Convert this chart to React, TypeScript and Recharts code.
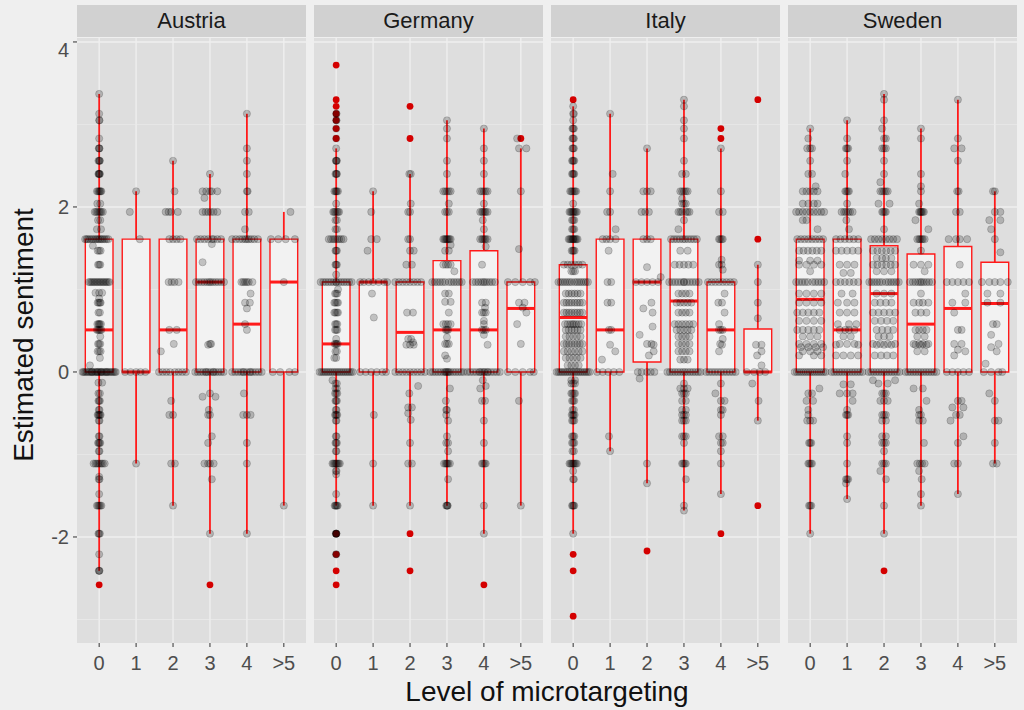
import React from "react";
import {
  ComposedChart,
  XAxis,
  YAxis,
  CartesianGrid,
  Scatter,
  ReferenceArea,
  ReferenceLine,
} from "recharts";

// [value, horizontal jitter offsets of the points sitting at that value]
type Row = [number, number[]];
// [lower whisker, q1, median, q3, upper whisker]
type Box = [number, number, number, number, number];

const LEVELS = ["0", "1", "2", "3", "4", ">5"];
const Y_TICKS = [-2, 0, 2, 4];
const Y_MINOR = [-3, -1, 1, 3];

const FONT = '"Liberation Sans", Arial, sans-serif';
const RED = "#ff1a1a";

// ---- Austria ----
const AUSTRIA_BOX: Box[] = [
  [-2.41, 0, 0.51, 1.61, 3.37],
  [-1.11, 0, 0, 1.61, 2.19],
  [-1.62, 0, 0.51, 1.61, 2.56],
  [-1.96, 0, 1.09, 1.61, 2.4],
  [-1.96, 0, 0.58, 1.61, 3.13],
  [-1.62, 0, 1.09, 1.61, 1.94],
];
const AUSTRIA_OUTLIERS = [[0, -2.58], [3, -2.58]];
const AUSTRIA_POINTS: Row[][] = [
  [
    [3.37, [0]], [3.13, [0]], [3.05, [0, 0.01]], [2.83, [0]], [2.71, [-0.01, 0, 0.01]],
    [2.56, [-0.02, 0, 0.01, 0.02]], [2.4, [-0.02, -0.01, 0, 0.01, 0.02]],
    [2.19, [-0.06, -0.03, 0, 0.02, 0.04, 0.06]], [2.04, [-0.05, 0.03]],
    [1.94, [-0.12, -0.08, -0.04, 0, 0.03, 0.06, 0.1]], [1.84, [-0.03, 0.03]], [1.73, [-0.06, 0.05]],
    [1.61, [-0.38, -0.34, -0.3, -0.25, -0.2, -0.15, -0.1, -0.06, -0.02, 0.02, 0.06, 0.1, 0.15, 0.2, 0.25]],
    [1.53, [-0.17]], [1.47, [-0.04, 0, 0.04]], [1.3, [-0.03, 0, 0.03]],
    [1.09, [-0.28, -0.24, -0.2, -0.16, -0.12, -0.08, -0.04, 0, 0.04, 0.08, 0.12, 0.16, 0.2, 0.24, 0.28]],
    [0.96, [-0.1, 0, 0.08]], [0.89, [0]], [0.84, [-0.04, -0.01, 0.02, 0.04]], [0.72, [-0.02, 0.02]],
    [0.58, [-0.05, -0.02, 0, 0.02, 0.05]], [0.51, [-0.06, -0.03, 0, 0.03, 0.06]], [0.43, [0.03]],
    [0.34, [-0.03, 0, 0.03]], [0.25, [-0.04, 0, 0.04]], [0.17, [0.02]], [0.08, [-0.25]],
    [0, [-0.45, -0.42, -0.38, -0.34, -0.3, -0.26, -0.22, -0.18, -0.14, -0.1, -0.06, -0.02, 0.02, 0.06, 0.1, 0.14, 0.18, 0.22, 0.26, 0.3, 0.34, 0.38, 0.42, 0.45, -0.2, -0.05, 0.05, 0.2]],
    [-0.13, [-0.02, 0.08]], [-0.26, [-0.02, 0.02]], [-0.35, [-0.02, 0, 0.02]], [-0.46, [-0.01, 0.01]],
    [-0.52, [-0.04, -0.02, 0, 0.02, 0.04]], [-0.59, [-0.01, 0.01]], [-0.78, [-0.01, 0.01]],
    [-0.86, [-0.03, -0.01, 0.01, 0.03]], [-0.96, [-0.01, 0.01]],
    [-1.11, [-0.15, -0.1, -0.06, -0.02, 0.02, 0.06, 0.1, 0.15]], [-1.27, [0]], [-1.3, [-0.01, 0.01]],
    [-1.48, [0]], [-1.62, [-0.06, -0.03, 0, 0.03, 0.06]], [-1.96, [-0.02, 0, 0.02]], [-2.21, [0]],
    [-2.41, [-0.01, 0, 0.01]],
  ],
  [[2.19, [0]], [1.94, [-0.17]], [1.61, [0.1]], [0, [-0.3, -0.15, 0, 0.12, 0.25]], [-1.11, [0]]],
  [
    [2.56, [0]], [2.19, [0.04]], [1.94, [-0.2, -0.12, -0.05, 0.13]], [1.61, [-0.1, 0, 0.1, 0.2]],
    [1.09, [-0.12, -0.04, 0.04, 0.15]], [0.51, [-0.1, 0.1]], [0.34, [0.02]], [0.25, [-0.33]],
    [0, [-0.38, -0.28, -0.18, -0.08, 0.05, 0.15, 0.25, 0.35]], [-0.35, [-0.05]], [-0.52, [-0.1, 0]],
    [-1.11, [-0.05, 0.05]], [-1.62, [0]],
  ],
  [
    [2.4, [0]], [2.19, [-0.2, -0.1, 0, 0.05, 0.2]], [2.11, [-0.15]],
    [1.94, [-0.2, -0.12, -0.05, 0.02, 0.1, 0.2]], [1.61, [-0.35, -0.25, -0.15, -0.05, 0.05, 0.1, 0.2, 0.3]],
    [1.55, [0.05]], [1.33, [-0.2]],
    [1.09, [-0.38, -0.3, -0.22, -0.15, -0.08, -0.02, 0.02, 0.08, 0.15, 0.22, 0.3, 0.38]],
    [0.34, [0, 0.03]], [0.33, [-0.05]],
    [0, [-0.4, -0.33, -0.26, -0.19, -0.12, -0.05, 0.02, 0.09, 0.16, 0.23, 0.3, 0.37, -0.1, 0.1]],
    [-0.26, [0]], [-0.3, [-0.2, 0.15]], [-0.46, [-0.03]], [-0.52, [-0.05, 0]], [-0.78, [0.05]],
    [-0.86, [-0.05]], [-1.11, [-0.15, -0.05, 0, 0.1]], [-1.3, [0.05]], [-1.96, [0]],
  ],
  [
    [3.13, [0]], [2.71, [0]], [2.56, [0]], [2.4, [0]], [2.19, [0, 0.02]], [1.94, [-0.05, 0.05]],
    [1.73, [-0.05]], [1.61, [-0.4, -0.3, -0.2, -0.12, -0.05, 0, 0.05, 0.12, 0.2, 0.3]],
    [1.09, [-0.15, -0.1, -0.05, 0, 0.05, 0.15]], [0.95, [0.1]], [0.84, [-0.05, 0.08]], [0.77, [0]],
    [0.58, [-0.05]], [0.51, [0]],
    [0, [-0.4, -0.32, -0.24, -0.16, -0.08, 0, 0.08, 0.16, 0.24, 0.32, 0.4, -0.1, 0.1]],
    [-0.26, [-0.08]], [-0.52, [-0.1, 0, 0.1]], [-0.86, [0]], [-1.11, [0]], [-1.96, [0]],
  ],
  [[1.94, [0.18]], [1.61, [-0.35, -0.15, 0.05, 0.3]], [1.09, [0]], [0, [-0.3, -0.1, 0.15, 0.3]], [-1.62, [0]]],
];

// ---- Germany ----
const GERMANY_BOX: Box[] = [
  [-1.62, 0, 0.34, 1.09, 2.71],
  [-1.62, 0, 1.09, 1.09, 2.19],
  [-1.62, 0, 0.48, 1.09, 2.4],
  [-1.62, 0, 0.51, 1.35, 3.05],
  [-1.96, 0, 0.51, 1.47, 2.95],
  [-1.62, 0, 0.77, 1.09, 2.71],
];
const GERMANY_OUTLIERS = [
  [0, 3.72], [0, 3.3], [0, 3.22], [0, 3.13], [0, 3.05], [0, 2.95], [0, 2.83],
  [0, -1.96], [0, -2.21], [0, -2.41], [0, -2.58],
  [2, 3.22], [2, 2.83], [2, -1.96], [2, -2.41], [4, -2.58], [5, 2.83],
];
const GERMANY_POINTS: Row[][] = [
  [
    [3.13, [0, 0.01]], [3.05, [0, 0.01]], [2.95, [0]], [2.83, [0]], [2.71, [0]],
    [2.56, [-0.01, 0, 0.01, 0.02]], [2.4, [-0.02, 0, 0.01, 0.02]], [2.19, [-0.05, -0.02, 0, 0.02, 0.05]],
    [2.04, [0]], [1.94, [-0.08, -0.05, -0.02, 0.02, 0.05, 0.08]], [1.84, [-0.02, 0.02]],
    [1.73, [-0.02, 0.02]], [1.61, [-0.2, -0.14, -0.08, -0.03, 0.03, 0.08, 0.14, 0.2]],
    [1.47, [-0.02, 0, 0.02]], [1.3, [-0.02, 0, 0.02]], [1.18, [0]],
    [1.09, [-0.42, -0.35, -0.28, -0.21, -0.14, -0.07, 0, 0.07, 0.14, 0.21, 0.28, 0.35, 0.42, 0]],
    [1.0, [0.05]], [0.95, [-0.03, 0, 0.03]], [0.84, [-0.05, -0.02, 0.02, 0.05]],
    [0.72, [-0.05, -0.02, 0.02, 0.05]], [0.58, [-0.03, 0, 0.03]], [0.51, [-0.03, 0, 0.03]], [0.4, [0]],
    [0.34, [-0.04, -0.01, 0.01, 0.04]], [0.25, [-0.02, 0.02]], [0.17, [-0.05, 0]],
    [0, [-0.45, -0.4, -0.35, -0.3, -0.25, -0.2, -0.15, -0.1, -0.05, 0, 0.05, 0.1, 0.15, 0.2, 0.25, 0.3, 0.35, 0.4, 0.45]],
    [-0.1, [-0.1]], [-0.14, [-0.02, 0.02]], [-0.2, [-0.02, 0.02]], [-0.26, [-0.03, 0, 0.03]],
    [-0.35, [-0.02, 0, 0.02]], [-0.46, [-0.01, 0.01]], [-0.52, [-0.03, -0.01, 0.01, 0.03]],
    [-0.59, [-0.01, 0.01]], [-0.78, [-0.01, 0.01]], [-0.86, [-0.02, 0, 0.02]], [-0.96, [-0.01, 0.01]],
    [-1.11, [-0.1, -0.07, -0.04, -0.01, 0.01, 0.04, 0.07, 0.1]], [-1.2, [-0.01, 0.01]], [-1.24, [0]],
    [-1.48, [0]], [-1.62, [-0.04, -0.02, 0, 0.02, 0.04]], [-1.96, [-0.01, 0, 0.01, 0, 0]], [-2.21, [0, 0]],
  ],
  [
    [2.19, [0]], [1.94, [-0.05]], [1.61, [-0.05, 0.1]], [1.47, [-0.15]],
    [1.09, [-0.35, -0.25, -0.12, 0, 0.15, 0.3, 0.38]], [0.95, [-0.03]], [0.66, [0.02]],
    [0, [-0.35, -0.2, -0.05, 0.1, 0.25, 0.35]], [-0.52, [0.02]], [-1.11, [0]], [-1.62, [0]],
  ],
  [
    [2.4, [-0.02, 0.02]], [2.04, [0.02]], [1.94, [-0.05, 0]], [1.61, [-0.05, 0]], [1.47, [0, 0.1]],
    [1.3, [-0.1, 0.05]], [1.09, [-0.4, -0.3, -0.2, -0.1, 0, 0.1, 0.2, 0.3]], [0.72, [-0.08, 0.08]],
    [0.4, [-0.05, 0.03]], [0.36, [0.08]], [0.33, [-0.1, 0, 0.1]],
    [0, [-0.4, -0.3, -0.2, -0.1, 0, 0.1, 0.2, 0.3, 0.4]], [-0.17, [0.22]], [-0.26, [-0.02]],
    [-0.43, [-0.05, 0.05]], [-0.5, [-0.05]], [-0.58, [0.02]], [-0.86, [0]], [-1.11, [-0.05, 0.05]],
    [-1.62, [0]],
  ],
  [
    [3.05, [0]], [2.95, [0]], [2.83, [0]], [2.56, [0]], [2.4, [0]], [2.19, [-0.1, -0.05, 0, 0.05, 0.1]],
    [2.04, [0.05]], [1.94, [-0.05, 0, 0.05]], [1.61, [-0.1, -0.07, -0.04, -0.01, 0.01, 0.04, 0.07, 0.1]],
    [1.54, [0.1]], [1.47, [-0.05, 0.05]], [1.3, [-0.1, -0.03, 0.03, 0.1]], [1.22, [0.2]],
    [1.09, [-0.4, -0.33, -0.26, -0.19, -0.12, -0.05, 0.05, 0.12, 0.19, 0.26, 0.33, 0.4]],
    [0.95, [0.05, -0.05]], [0.85, [-0.05, 0.1]], [0.72, [0.05]], [0.58, [-0.1, -0.03, 0.03, 0.1]],
    [0.51, [-0.03, 0, 0.03]], [0.42, [0]], [0.34, [-0.05, 0, 0.05]], [0.2, [-0.05]], [0.16, [0]],
    [0, [-0.45, -0.38, -0.31, -0.24, -0.17, -0.1, -0.03, 0.03, 0.1, 0.17, 0.24, 0.31, 0.38, 0.45, 0, -0.05, 0.05]],
    [-0.2, [0.08]], [-0.35, [-0.03]], [-0.46, [-0.02, 0]], [-0.52, [-0.02]], [-0.59, [0.03]],
    [-0.78, [0]], [-0.86, [-0.02, 0.03]], [-0.96, [0.03]],
    [-1.11, [-0.08, -0.04, -0.01, 0.01, 0.04, 0.08]], [-1.3, [0.03]], [-1.62, [-0.02, 0, 0.01, 0.02]],
  ],
  [
    [2.95, [0]], [2.71, [0]], [2.56, [0]], [2.4, [0]], [2.19, [-0.1, -0.05, 0, 0.05, 0.1]], [2.04, [0]],
    [1.94, [-0.1, -0.05, -0.02, 0.02, 0.05, 0.1]], [1.84, [-0.03]], [1.73, [0]],
    [1.61, [-0.1, -0.05, -0.02, 0.02, 0.05, 0.1]], [1.52, [0.05]], [1.3, [-0.05]],
    [1.09, [-0.3, -0.22, -0.15, -0.08, -0.02, 0.02, 0.08, 0.15, 0.22, 0.3]], [0.84, [-0.05, 0.05]],
    [0.78, [0.03]], [0.72, [-0.05, 0, 0.05]], [0.62, [0]], [0.58, [0]], [0.51, [-0.05, 0, 0.05]],
    [0.45, [0]], [0.33, [0.1]],
    [0, [-0.45, -0.37, -0.29, -0.21, -0.13, -0.05, 0.03, 0.11, 0.19, 0.27, 0.35, 0.43, 0, -0.1, 0.1]],
    [-0.1, [-0.03]], [-0.17, [0.05]], [-0.2, [-0.1]], [-0.35, [-0.05, 0.03]], [-0.59, [0]], [-0.86, [0]],
    [-1.11, [-0.05, -0.02, 0.02, 0.05]], [-1.62, [0]], [-1.96, [0]],
  ],
  [
    [2.83, [-0.1]], [2.71, [-0.05, 0.15]], [2.19, [0]], [1.49, [-0.05]],
    [1.09, [-0.35, -0.15, 0.05, 0.25, 0.38]], [0.84, [-0.05, 0.1]], [0.78, [0.05]], [0.72, [0.15]],
    [0.58, [-0.1]], [0.34, [0]], [0, [-0.35, -0.15, 0.05, 0.25, 0.35]], [-0.35, [-0.05]], [-1.62, [0]],
  ],
];

// ---- Italy ----
const ITALY_BOX: Box[] = [
  [-1.96, 0, 0.66, 1.3, 3.22],
  [-0.96, 0, 0.51, 1.61, 3.13],
  [-1.35, 0.12, 1.09, 1.61, 2.71],
  [-1.68, 0, 0.86, 1.61, 3.3],
  [-1.48, 0, 0.51, 1.09, 2.71],
  [-0.59, 0, 0, 0.52, 1.3],
];
const ITALY_OUTLIERS = [
  [0, 3.3], [0, -2.21], [0, -2.41], [0, -2.96], [2, -2.17],
  [4, 2.95], [4, 2.83], [4, -1.96], [5, 3.3], [5, 1.61], [5, -1.62],
];
const ITALY_POINTS: Row[][] = [
  [
    [3.22, [0]], [3.13, [0, 0.02]], [3.05, [0]], [2.95, [-0.02, 0, 0.02]], [2.83, [-0.02, 0, 0.02]],
    [2.71, [-0.02, 0, 0.02]], [2.56, [-0.03, -0.01, 0.01, 0.03]], [2.4, [-0.03, -0.01, 0.01, 0.03]],
    [2.19, [-0.08, -0.05, -0.02, 0.02, 0.05, 0.08]], [2.04, [0]],
    [1.94, [-0.1, -0.07, -0.04, -0.01, 0.01, 0.04, 0.07, 0.1]], [1.84, [-0.03, 0, 0.03]],
    [1.73, [-0.03, 0, 0.03]], [1.61, [-0.12, -0.09, -0.06, -0.03, 0, 0.03, 0.06, 0.09, 0.12, 0]],
    [1.47, [-0.04, -0.01, 0.01, 0.04]], [1.3, [-0.25, -0.15, -0.05, 0.05, 0.15, 0.25]],
    [1.22, [-0.05, 0, 0.05]],
    [1.09, [-0.4, -0.34, -0.28, -0.22, -0.16, -0.1, -0.04, 0.04, 0.1, 0.16, 0.22, 0.28, 0.34, 0.4]],
    [0.95, [-0.2, -0.12, -0.04, 0.04, 0.12, 0.2]], [0.84, [-0.25, -0.18, -0.11, -0.04, 0.04, 0.11, 0.18, 0.25]],
    [0.72, [-0.25, -0.18, -0.11, -0.04, 0.04, 0.11, 0.18, 0.25]],
    [0.58, [-0.22, -0.15, -0.08, -0.02, 0.02, 0.08, 0.15, 0.22]], [0.51, [-0.2, -0.12, -0.04, 0.04, 0.12, 0.2]],
    [0.43, [-0.2, -0.1, 0, 0.1, 0.2]], [0.34, [-0.25, -0.18, -0.11, -0.04, 0.04, 0.11, 0.18, 0.25]],
    [0.25, [-0.25, -0.15, -0.05, 0.05, 0.15, 0.25]], [0.17, [-0.2, -0.1, 0, 0.1, 0.2]],
    [0.08, [-0.15, -0.05, 0.05, 0.15]],
    [0, [-0.45, -0.4, -0.35, -0.3, -0.25, -0.2, -0.15, -0.1, -0.05, 0, 0.05, 0.1, 0.15, 0.2, 0.25, 0.3, 0.35, 0.4, 0.45]],
    [-0.1, [-0.05, 0.05]], [-0.14, [-0.05, 0, 0.05]], [-0.26, [-0.05, -0.02, 0.02, 0.05]],
    [-0.35, [-0.03, 0, 0.03]], [-0.46, [-0.02, 0.02]], [-0.52, [-0.04, -0.01, 0.01, 0.04]],
    [-0.59, [-0.03, 0, 0.03]], [-0.78, [-0.03, 0, 0.03]], [-0.86, [-0.03, 0, 0.03]], [-0.96, [-0.02, 0.02]],
    [-1.11, [-0.1, -0.07, -0.04, -0.01, 0.01, 0.04, 0.07, 0.1]], [-1.2, [0]], [-1.3, [0, 0.02]],
    [-1.62, [-0.03, -0.01, 0.01, 0.03]], [-1.96, [0]],
  ],
  [
    [3.13, [0]], [2.4, [0.07]], [2.19, [0]], [1.94, [-0.08, 0]], [1.73, [0.15]],
    [1.61, [-0.2, -0.1, 0, 0.15]], [1.47, [-0.04]], [1.09, [-0.07, 0.03]], [0.84, [-0.07, 0.03]],
    [0.51, [-0.03, 0.03]], [0.33, [0]], [0.25, [0.14]], [0.15, [-0.22]], [0, [-0.35, -0.2, -0.05, 0.1, 0.25]],
    [-0.78, [-0.03]], [-0.96, [0]],
  ],
  [
    [2.71, [0]], [2.19, [-0.1, 0, 0.1]], [1.94, [-0.15, -0.05, 0.05]], [1.61, [-0.1, 0, 0.1]], [1.27, [0]],
    [1.15, [0.37]], [1.09, [-0.3, -0.15, 0, 0.15, 0.3]], [0.84, [0.12]], [0.77, [-0.1]], [0.72, [0.15]],
    [0.55, [0.15]], [0.45, [-0.2]], [0.34, [0, 0.12]], [0.33, [0.18]], [0.25, [0.18]], [0.2, [0.05]],
    [0, [-0.25, -0.15, 0, 0.1, 0.2]], [-0.08, [-0.2]], [-1.11, [0]], [-1.35, [0]],
  ],
  [
    [3.3, [0]], [3.22, [0]], [3.05, [0]], [2.95, [0]], [2.83, [0]], [2.56, [0]], [2.4, [-0.05, 0.05]],
    [2.19, [-0.1, -0.05, 0, 0.05, 0.1]], [2.1, [-0.05]], [2.04, [-0.05, 0, 0.05]],
    [1.94, [-0.15, -0.1, -0.05, 0.05, 0.1, 0.15]], [1.84, [0]], [1.73, [-0.15]],
    [1.61, [-0.35, -0.27, -0.19, -0.11, -0.03, 0.03, 0.11, 0.19, 0.27, 0.35]], [1.47, [-0.1, 0.1]],
    [1.3, [-0.25, -0.12, 0, 0.12, 0.25]],
    [1.09, [-0.4, -0.32, -0.24, -0.16, -0.08, 0, 0.08, 0.16, 0.24, 0.32, 0.4, 0]],
    [0.95, [-0.15, -0.05, 0.05, 0.15]], [0.84, [-0.2, -0.1, 0, 0.1, 0.2]], [0.72, [-0.15, -0.05, 0.05, 0.15]],
    [0.58, [-0.25, -0.15, -0.05, 0.05, 0.15, 0.25]], [0.51, [-0.2, -0.1, 0, 0.1, 0.2]],
    [0.43, [-0.15, -0.05, 0.05, 0.15]], [0.34, [-0.15, -0.05, 0.05, 0.15]], [0.25, [-0.15, -0.05, 0.05, 0.15]],
    [0.15, [-0.1, 0, 0.1]],
    [0, [-0.45, -0.38, -0.31, -0.24, -0.17, -0.1, -0.03, 0.03, 0.1, 0.17, 0.24, 0.31, 0.38, 0.45]],
    [-0.14, [0]], [-0.2, [-0.1, 0, 0.1]], [-0.26, [-0.05, 0, 0.05]], [-0.35, [-0.05, 0.05]],
    [-0.46, [-0.05, 0.05]], [-0.52, [-0.05, 0, 0.05]], [-0.59, [-0.05, 0, 0.05]], [-0.78, [-0.05, 0, 0.05]],
    [-0.86, [0]], [-1.11, [-0.05, -0.02, 0.02, 0.05]], [-1.3, [0.05]], [-1.62, [0]], [-1.68, [0]],
  ],
  [
    [2.71, [0]], [2.19, [0]], [1.94, [-0.05, 0.05]], [1.61, [-0.05, -0.02, 0.02, 0.05]], [1.36, [0.02]],
    [1.3, [-0.05, 0.02]], [1.24, [0.05]], [1.09, [-0.35, -0.25, -0.15, -0.05, 0.05, 0.15, 0.25, 0.35]],
    [0.95, [0.1]], [0.84, [-0.07, 0.03]], [0.72, [0.1]], [0.58, [-0.05]], [0.51, [-0.05, 0, 0.05]],
    [0.4, [0.05]], [0.34, [-0.02]], [0.33, [0.03]], [0.25, [-0.05]],
    [0, [-0.4, -0.32, -0.24, -0.16, -0.08, 0, 0.08, 0.16, 0.24, 0.32, 0.4]],
    [-0.14, [0]], [-0.26, [-0.15]], [-0.35, [0, 0.1]], [-0.46, [0, 0.05]], [-0.52, [0]],
    [-0.78, [-0.05, 0.05]], [-0.86, [0, 0.05]], [-0.96, [0]], [-1.11, [0]], [-1.48, [0]],
  ],
  [
    [1.3, [0]], [1.09, [0]], [0.84, [0]], [0.65, [0]], [0.33, [-0.05, 0.1]], [0.25, [0.1]], [0.2, [-0.02]],
    [0.08, [0.1]], [0, [-0.3, -0.1, 0.05, 0.2]], [-0.14, [-0.15]], [-0.35, [0.02]], [-0.59, [0]],
  ],
];

// ---- Sweden ----
const SWEDEN_BOX: Box[] = [
  [-1.96, 0, 0.88, 1.61, 2.95],
  [-1.54, 0, 0.51, 1.61, 3.05],
  [-1.96, 0, 0.95, 1.53, 3.37],
  [-1.62, 0, 0.58, 1.43, 2.95],
  [-1.48, 0, 0.77, 1.52, 3.3],
  [-1.11, 0, 0.83, 1.33, 2.19],
];
const SWEDEN_OUTLIERS = [[2, -2.41]];
const SWEDEN_POINTS: Row[][] = [
  [
    [2.95, [0]], [2.83, [-0.05]], [2.71, [-0.08, 0, 0.05]], [2.56, [0]], [2.4, [-0.05, 0.05]], [2.25, [0.15]],
    [2.19, [-0.2, -0.1, 0, 0.1, 0.2]], [2.04, [-0.2, -0.05, 0.1, 0.2]],
    [1.94, [-0.38, -0.3, -0.2, -0.1, 0, 0.1, 0.2, 0.3, 0.38]], [1.84, [-0.2, -0.1]], [1.73, [0.2]],
    [1.61, [-0.35, -0.25, -0.15, -0.05, 0.05, 0.15, 0.25, 0.35]], [1.47, [-0.3, -0.18, -0.06, 0.06, 0.18, 0.3]],
    [1.35, [-0.3, 0, 0.2]], [1.3, [-0.3, -0.1, 0.1, 0.3]], [1.22, [0]],
    [1.09, [-0.38, -0.3, -0.22, -0.14, -0.06, 0.06, 0.14, 0.22, 0.3, 0.38]], [0.95, [-0.3, -0.1, 0.1, 0.3]],
    [0.84, [-0.3, -0.1, 0.1, 0.3]], [0.72, [-0.35, -0.2, -0.05, 0.1, 0.25]], [0.62, [-0.3, -0.1, 0.1, 0.3]],
    [0.51, [-0.35, -0.2, -0.05, 0.1, 0.25]], [0.43, [-0.2, 0, 0.2]], [0.34, [-0.3, -0.1, 0.1, 0.3]],
    [0.3, [-0.25, -0.05, 0.15, 0.35]], [0.25, [-0.2, 0, 0.2]], [0.2, [-0.3, 0.1, 0.3]],
    [0, [-0.42, -0.36, -0.3, -0.24, -0.18, -0.12, -0.06, 0, 0.06, 0.12, 0.18, 0.24, 0.3, 0.36, 0.42]],
    [-0.2, [0.25]], [-0.26, [-0.05, 0.05]], [-0.35, [-0.1, 0.08]], [-0.46, [-0.05]], [-0.52, [-0.05]],
    [-0.59, [-0.08, 0, 0.08]], [-0.86, [-0.03, 0, 0.03]], [-1.11, [-0.05, -0.02, 0.02, 0.05]],
    [-1.62, [-0.03, 0, 0.03]], [-1.96, [0]],
  ],
  [
    [3.05, [0]], [2.83, [0]], [2.71, [-0.03, 0, 0.03]], [2.56, [0]], [2.4, [-0.05]],
    [2.19, [-0.05, -0.02, 0.02, 0.05]], [2.04, [0]], [1.94, [-0.15, -0.08, -0.03, 0.03, 0.08, 0.15]],
    [1.84, [-0.02]], [1.73, [0.05]], [1.61, [-0.3, -0.18, -0.06, 0.06, 0.18, 0.3]],
    [1.47, [-0.3, -0.15, 0, 0.15, 0.3]], [1.3, [-0.2, 0, 0.2]], [1.2, [-0.1, 0.1]],
    [1.09, [-0.3, -0.18, -0.06, 0.06, 0.18, 0.3]], [0.95, [-0.15, 0.15]], [0.84, [-0.25, 0, 0.2]],
    [0.72, [-0.2, 0, 0.2]], [0.58, [-0.25, 0.05, 0.25]], [0.51, [-0.2, -0.05, 0.05, 0.2]], [0.43, [-0.1, 0.1]],
    [0.34, [-0.2, 0, 0.2]], [0.33, [-0.3, 0.3]], [0.2, [-0.3, -0.1, 0.1, 0.3]],
    [0, [-0.42, -0.35, -0.28, -0.21, -0.14, -0.07, 0, 0.07, 0.14, 0.21, 0.28, 0.35, 0.42]],
    [-0.15, [-0.1, 0.1]], [-0.26, [-0.2, 0, 0.15]], [-0.35, [0.15]], [-0.46, [0]], [-0.52, [-0.03, 0, 0.03]],
    [-0.78, [0]], [-0.86, [0]], [-1.11, [0]], [-1.3, [-0.03, 0, 0.03]], [-1.35, [-0.03]], [-1.54, [0]],
  ],
  [
    [3.37, [0]], [3.3, [0]], [3.05, [0]], [2.95, [-0.05]], [2.83, [0, 0.05]], [2.71, [-0.05, 0, 0.05]],
    [2.56, [0]], [2.4, [0]], [2.3, [-0.1]], [2.19, [-0.1, -0.05, 0, 0.05, 0.1]], [2.04, [-0.15, 0.15]],
    [1.94, [-0.05, -0.02, 0.02, 0.05]], [1.73, [0]], [1.61, [-0.35, -0.25, -0.15, -0.05, 0.05, 0.15, 0.25, 0.35]],
    [1.47, [-0.3, -0.18, -0.06, 0.06, 0.18, 0.3]], [1.38, [-0.2, -0.05, 0.05, 0.2]],
    [1.3, [-0.3, -0.18, -0.06, 0.06, 0.18, 0.3]], [1.22, [-0.2, 0, 0.2]],
    [1.09, [-0.4, -0.33, -0.26, -0.19, -0.12, -0.05, 0.05, 0.12, 0.19, 0.26, 0.33, 0.4]],
    [0.95, [-0.2, 0, 0.2]], [0.84, [-0.25, -0.1, 0.05, 0.2]], [0.72, [-0.3, -0.15, 0, 0.15, 0.3]],
    [0.62, [-0.25, -0.08, 0.08, 0.25]], [0.51, [-0.2, -0.05, 0.1, 0.25]], [0.43, [-0.15, 0, 0.15]],
    [0.34, [-0.3, -0.1, 0.1, 0.3]], [0.33, [-0.2, 0, 0.2]], [0.2, [-0.25, -0.08, 0.08, 0.25]],
    [0, [-0.42, -0.35, -0.28, -0.21, -0.14, -0.07, 0, 0.07, 0.14, 0.21, 0.28, 0.35, 0.42]],
    [-0.1, [-0.3, 0.3]], [-0.14, [-0.15, 0.1]], [-0.26, [-0.05, 0, 0.05]], [-0.35, [-0.1, 0, 0.1]],
    [-0.52, [-0.05, 0, 0.05]], [-0.59, [-0.05, 0.05]], [-0.78, [-0.05, 0.05]], [-0.86, [-0.05, 0, 0.05]],
    [-0.96, [0]], [-1.11, [-0.05, 0, 0.05]], [-1.2, [-0.1]], [-1.3, [0.05]], [-1.62, [0]], [-1.96, [0]],
  ],
  [
    [2.95, [0]], [2.83, [0]], [2.4, [0]], [2.25, [0]], [2.19, [0]], [2.04, [-0.05]],
    [1.94, [-0.05, -0.02, 0, 0.02, 0.05, 0.08]], [1.84, [-0.15]], [1.73, [0.2]],
    [1.61, [-0.1, -0.05, -0.02, 0.02, 0.05, 0.1]], [1.47, [0]], [1.3, [-0.2, 0, 0.2]], [1.22, [0.1]],
    [1.09, [-0.3, -0.22, -0.15, -0.08, -0.02, 0.02, 0.08, 0.15, 0.22, 0.3]], [0.95, [0]],
    [0.84, [-0.2, -0.05, 0.05, 0.2]], [0.72, [-0.15, 0, 0.15]], [0.51, [-0.15, -0.05, 0.05, 0.15]],
    [0.43, [-0.1, 0.1]], [0.34, [-0.2, -0.05, 0.05, 0.2]], [0.33, [-0.15, 0, 0.15]], [0.25, [-0.1, 0.1]],
    [0, [-0.42, -0.35, -0.28, -0.21, -0.14, -0.07, 0, 0.07, 0.14, 0.21, 0.28, 0.35, 0.42]],
    [-0.2, [0.05, -0.2]], [-0.35, [0.15]], [-0.46, [-0.05]], [-0.52, [-0.05, 0]], [-0.59, [-0.05, 0.05]],
    [-0.86, [0.08]], [-1.11, [-0.1, -0.03, 0.03, 0.1]], [-1.2, [-0.05]], [-1.3, [0.02]], [-1.48, [0]],
    [-1.62, [0]],
  ],
  [
    [3.3, [0]], [2.83, [0]], [2.71, [-0.1, 0.1]], [2.56, [0]], [2.19, [-0.02, 0.02]], [1.94, [-0.05, 0.05]],
    [1.61, [-0.25, -0.05, 0.05, 0.25]], [1.3, [0.05]], [1.09, [-0.3, -0.15, 0, 0.15, 0.3]], [0.95, [0.2]],
    [0.84, [-0.15, 0.2]], [0.72, [-0.1]], [0.51, [0, 0.1]], [0.34, [-0.1, 0.1]], [0.27, [0]], [0.25, [0.2]],
    [0.2, [-0.1]], [0, [-0.3, -0.15, 0, 0.15, 0.3]], [-0.35, [0, 0.1]], [-0.43, [-0.15, 0.15]],
    [-0.52, [-0.05, 0.05]], [-0.59, [-0.2]], [-0.78, [0.15]], [-0.86, [0]], [-1.11, [-0.1, 0]], [-1.48, [0]],
  ],
  [
    [2.19, [-0.05, 0]], [1.94, [0, 0.15]], [1.84, [-0.15, 0.15]], [1.73, [-0.1]], [1.61, [0]], [1.45, [0.15]],
    [1.09, [-0.35, -0.15, 0, 0.15, 0.35]], [0.95, [-0.2, 0.15]], [0.84, [-0.2, 0.15]], [0.58, [-0.05, 0.05]],
    [0.45, [-0.1]], [0.34, [0.1]], [0.3, [-0.1]], [0.25, [0.05]], [0.1, [-0.25]],
    [0, [-0.3, -0.1, 0.1, 0.2]], [-0.26, [-0.15]], [-0.35, [0]], [-0.59, [0, 0.1]], [-0.86, [0]],
    [-1.11, [-0.05, 0.05]],
  ],
];

const PANELS = [
  { name: "Austria", box: AUSTRIA_BOX, out: AUSTRIA_OUTLIERS, pts: AUSTRIA_POINTS, left: 0 },
  { name: "Germany", box: GERMANY_BOX, out: GERMANY_OUTLIERS, pts: GERMANY_POINTS, left: 314 },
  { name: "Italy", box: ITALY_BOX, out: ITALY_OUTLIERS, pts: ITALY_POINTS, left: 551 },
  { name: "Sweden", box: SWEDEN_BOX, out: SWEDEN_OUTLIERS, pts: SWEDEN_POINTS, left: 788 },
];

const PLOT_W = 229;
const Y_AXIS_W = 77;
const PLOT_TOP = 38;
const PLOT_H = 605;
const X_AXIS_H = 67;
const HALF = 0.375;

const Jitter = (props: any) => (
  <circle
    cx={props.cx}
    cy={props.cy}
    r={3.6}
    fill="#000"
    fillOpacity={0.2}
    stroke="#000"
    strokeOpacity={0.22}
    strokeWidth={0.8}
  />
);

const Outlier = (props: any) => <circle cx={props.cx} cy={props.cy} r={3.4} fill="#d40000" />;

function Panel({ panel, first }: { panel: (typeof PANELS)[number]; first: boolean }) {
  const points = panel.pts.flatMap((rows, i) =>
    rows.flatMap(([y, offs]) => offs.map((o) => ({ x: i + o, y })))
  );
  const outliers = panel.out.map(([i, y]) => ({ x: i, y }));
  const width = PLOT_W + (first ? Y_AXIS_W : 0);

  return (
    <div style={{ position: "absolute", left: panel.left, top: PLOT_TOP }}>
      <ComposedChart
        width={width}
        height={PLOT_H + X_AXIS_H}
        margin={{ top: 0, right: 0, bottom: 0, left: 0 }}
      >
        <CartesianGrid
          fill="#dedede"
          stroke="#efefef"
          strokeWidth={1.4}
          horizontalValues={Y_TICKS}
          verticalValues={[0, 1, 2, 3, 4, 5]}
        />
        <CartesianGrid
          stroke="#ebebeb"
          strokeWidth={0.7}
          vertical={false}
          horizontalValues={Y_MINOR}
        />
        <XAxis
          type="number"
          dataKey="x"
          domain={[-0.6, 5.6]}
          ticks={[0, 1, 2, 3, 4, 5]}
          interval={0}
          allowDataOverflow
          tickFormatter={(v: number) => LEVELS[v]}
          height={X_AXIS_H}
          axisLine={false}
          tickSize={4}
          tickMargin={9}
          tickLine={{ stroke: "#333" }}
          tick={{ fontSize: 20, fill: "#4d4d4d", fontFamily: FONT }}
        />
        <YAxis
          type="number"
          dataKey="y"
          domain={[-3.285, 4.048]}
          ticks={Y_TICKS}
          allowDataOverflow
          hide={!first}
          width={Y_AXIS_W}
          axisLine={false}
          tickSize={4}
          tickMargin={4}
          tickLine={{ stroke: "#333" }}
          tick={{ fontSize: 20, fill: "#4d4d4d", fontFamily: FONT }}
        />
        {panel.box.map(([lo, q1, , q3], i) => (
          <ReferenceArea
            key={`box${i}`}
            x1={i - HALF}
            x2={i + HALF}
            y1={q1}
            y2={q3}
            fill="#f2f2f2"
            fillOpacity={1}
            stroke={RED}
            strokeWidth={1.4}
            ifOverflow="visible"
          />
        ))}
        {panel.box.map(([lo, q1, , q3, hi], i) => [
          <ReferenceLine
            key={`wu${i}`}
            segment={[{ x: i, y: q3 }, { x: i, y: hi }]}
            stroke={RED}
            strokeWidth={1.8}
          />,
          <ReferenceLine
            key={`wl${i}`}
            segment={[{ x: i, y: q1 }, { x: i, y: lo }]}
            stroke={RED}
            strokeWidth={1.8}
          />,
        ])}
        {panel.box.map(([, , med], i) => (
          <ReferenceLine
            key={`med${i}`}
            segment={[{ x: i - HALF, y: med }, { x: i + HALF, y: med }]}
            stroke={RED}
            strokeWidth={3}
          />
        ))}
        <Scatter data={outliers} dataKey="y" shape={Outlier} isAnimationActive={false} />
        <Scatter data={points} dataKey="y" shape={Jitter} isAnimationActive={false} />
      </ComposedChart>
    </div>
  );
}

export default function App() {
  return (
    <div
      style={{
        position: "absolute",
        left: 0,
        top: 0,
        width: 1024,
        height: 710,
        background: "#efefef",
        fontFamily: FONT,
        overflow: "hidden",
      }}
    >
      {PANELS.map((p, k) => {
        const plotLeft = k === 0 ? Y_AXIS_W : p.left;
        return (
          <div
            key={p.name}
            style={{
              position: "absolute",
              left: plotLeft,
              top: 5,
              width: PLOT_W,
              height: 32,
              background: "#d1d1d1",
              color: "#1a1a1a",
              fontSize: 22,
              lineHeight: "32px",
              textAlign: "center",
            }}
          >
            {p.name}
          </div>
        );
      })}
      {PANELS.map((p, k) => (
        <Panel key={p.name} panel={p} first={k === 0} />
      ))}
      <svg
        width={1024}
        height={710}
        style={{ position: "absolute", left: 0, top: 0, pointerEvents: "none" }}
      >
        <text
          x={33}
          y={335}
          transform="rotate(-90 33 335)"
          textAnchor="middle"
          fontSize={28}
          fill="#111"
          fontFamily={FONT}
        >
          Estimated sentiment
        </text>
        <text x={547} y={701} textAnchor="middle" fontSize={28} fill="#111" fontFamily={FONT}>
          Level of microtargeting
        </text>
      </svg>
    </div>
  );
}
